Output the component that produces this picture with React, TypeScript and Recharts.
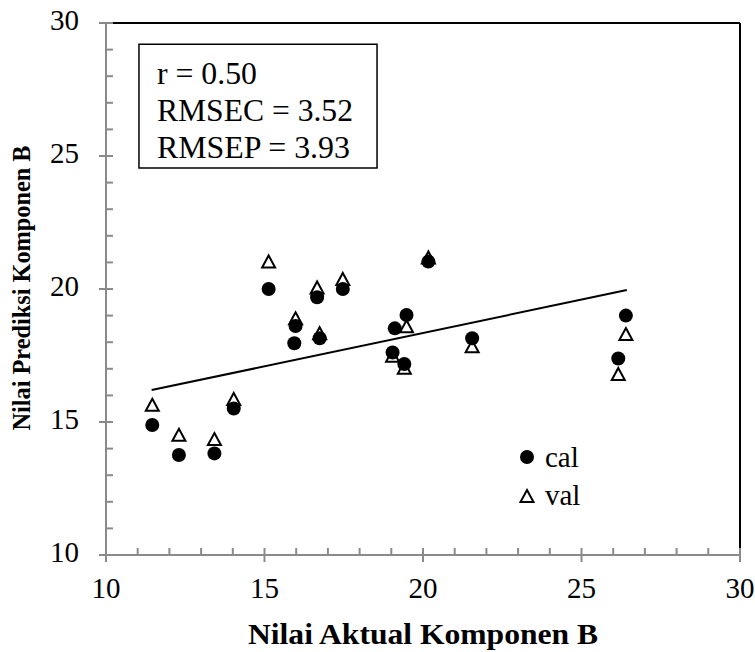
import React from 'react';
import { ScatterChart, Scatter, XAxis, YAxis, ReferenceLine, ReferenceArea, Label } from 'recharts';

// measured samples (x = actual, y = predicted)
const calPoints = [
  { x: 11.46, y: 14.89 }, { x: 12.3, y: 13.76 }, { x: 13.42, y: 13.82 }, { x: 14.03, y: 15.51 },
  { x: 15.13, y: 20.0 }, { x: 15.94, y: 17.96 }, { x: 15.98, y: 18.61 }, { x: 16.66, y: 19.69 },
  { x: 16.74, y: 18.15 }, { x: 17.47, y: 20.0 }, { x: 19.04, y: 17.61 }, { x: 19.11, y: 18.52 },
  { x: 19.41, y: 17.18 }, { x: 19.48, y: 19.02 }, { x: 20.17, y: 21.03 }, { x: 21.55, y: 18.15 },
  { x: 26.16, y: 17.39 }, { x: 26.4, y: 19.0 },
];

const valPoints = [
  { x: 11.46, y: 15.61 }, { x: 12.3, y: 14.48 }, { x: 13.42, y: 14.32 }, { x: 14.03, y: 15.83 },
  { x: 15.13, y: 21.0 }, { x: 15.98, y: 18.86 }, { x: 16.66, y: 20.02 }, { x: 16.74, y: 18.3 },
  { x: 17.47, y: 20.34 }, { x: 19.04, y: 17.45 }, { x: 19.41, y: 17.0 }, { x: 19.48, y: 18.56 },
  { x: 20.17, y: 21.15 }, { x: 21.55, y: 17.81 }, { x: 26.16, y: 16.77 }, { x: 26.4, y: 18.27 },
];

const trendLine = [{ x: 11.44, y: 16.2 }, { x: 26.43, y: 19.96 }];

const axisTicks = [10, 11, 12, 13, 14, 15, 16, 17, 18, 19, 20, 21, 22, 23, 24, 25, 26, 27, 28, 29, 30];
const statLines = ['r = 0.50', 'RMSEC = 3.52', 'RMSEP = 3.93'];
const statWidths = [100, 196, 193];

const FONT = '"Liberation Serif", "Times New Roman", serif';
const AXIS = '#8a8a8a';

const XTick = (props: any) => {
  const { x, y, payload } = props;
  const major = payload.value % 5 === 0;
  return (
    <g>
      <line x1={x} x2={x} y1={y - 7} y2={major ? y + 7 : y} stroke={AXIS} strokeWidth={2} />
      {major && (
        <text x={x} y={y + 43} textAnchor="middle" fontSize={29} fontFamily={FONT} fill="#000">
          {payload.value}
        </text>
      )}
    </g>
  );
};

const YTick = (props: any) => {
  const { x, y, payload } = props;
  const major = payload.value % 5 === 0;
  return (
    <g>
      <line x1={major ? x - 7 : x} x2={x + 7} y1={y} y2={y} stroke={AXIS} strokeWidth={2} />
      {major && (
        <text x={x - 27} y={y + 7} textAnchor="end" fontSize={29} fontFamily={FONT} fill="#000">
          {payload.value}
        </text>
      )}
    </g>
  );
};

const CalDot = (props: any) => <circle cx={props.cx} cy={props.cy} r={7} fill="#000" />;

const ValTri = (props: any) => {
  const { cx, cy } = props;
  return (
    <path
      d={`M${cx},${cy - 7} L${cx + 6.5},${cy + 5} L${cx - 6.5},${cy + 5} Z`}
      fill="#fff"
      stroke="#000"
      strokeWidth={2}
    />
  );
};

const NoShape = () => <g />;

const StatsText = (props: any) => {
  const vb = props.viewBox || { x: 0, y: 0 };
  return (
    <g>
      {statLines.map((s, i) => (
        <text
          key={s}
          x={vb.x + 18}
          y={vb.y + 40 + i * 37}
          fontSize={31}
          fontFamily={FONT}
          fill="#000"
          textLength={statWidths[i]}
          lengthAdjust="spacingAndGlyphs"
        >
          {s}
        </text>
      ))}
    </g>
  );
};

const App = () => {
  return (
    <div style={{ position: 'absolute', left: 0, top: 0, width: 755, height: 652, overflow: 'hidden', background: '#fff' }}>
      <ScatterChart width={755} height={652} margin={{ top: 23, right: 15, bottom: 0, left: 0 }}>
        <XAxis
          type="number"
          dataKey="x"
          domain={[10, 30]}
          ticks={axisTicks}
          interval={0}
          tickSize={0}
          tickMargin={0}
          tick={<XTick />}
          axisLine={{ stroke: AXIS, strokeWidth: 2 }}
          height={97}
        >
          <Label
            content={() => (
              <text
                x={423}
                y={644}
                textAnchor="middle"
                fontSize={30}
                fontWeight="bold"
                fontFamily={FONT}
                fill="#000"
                textLength={350}
                lengthAdjust="spacingAndGlyphs"
              >
                Nilai Aktual Komponen B
              </text>
            )}
          />
        </XAxis>
        <YAxis
          type="number"
          dataKey="y"
          domain={[10, 30]}
          ticks={axisTicks}
          interval={0}
          tickSize={0}
          tickMargin={0}
          tick={<YTick />}
          axisLine={{ stroke: AXIS, strokeWidth: 2 }}
          width={106}
        >
          <Label
            content={() => (
              <text
                x={30}
                y={288}
                transform="rotate(-90 30 288)"
                textAnchor="middle"
                fontSize={26}
                fontWeight="bold"
                fontFamily={FONT}
                fill="#000"
                textLength={285}
                lengthAdjust="spacingAndGlyphs"
              >
                Nilai Prediksi Komponen B
              </text>
            )}
          />
        </YAxis>
        <ReferenceLine y={30} stroke="#000" strokeWidth={2} />
        <ReferenceLine x={30} stroke="#000" strokeWidth={2} />
        <ReferenceArea
          x1={11.04}
          x2={18.55}
          y1={24.55}
          y2={29.2}
          fill="#fff"
          fillOpacity={1}
          stroke="#000"
          strokeWidth={1.5}
          label={(p: any) => <StatsText {...p} />}
        />
        <Scatter data={trendLine} line={{ stroke: '#000', strokeWidth: 2 }} shape={NoShape} isAnimationActive={false} />
        <Scatter name="val" data={valPoints} shape={ValTri} isAnimationActive={false} />
        <Scatter name="cal" data={calPoints} shape={CalDot} isAnimationActive={false} />
      </ScatterChart>
      <svg width={120} height={80} style={{ position: 'absolute', left: 510, top: 435 }}>
        <circle cx={17} cy={22} r={7} fill="#000" />
        <text x={35} y={32} fontSize={29} fontFamily={FONT} fill="#000">cal</text>
        <path d="M17,55 L23.5,67 L10.5,67 Z" fill="#fff" stroke="#000" strokeWidth={2} />
        <text x={35} y={70} fontSize={29} fontFamily={FONT} fill="#000">val</text>
      </svg>
    </div>
  );
};

export default App;
